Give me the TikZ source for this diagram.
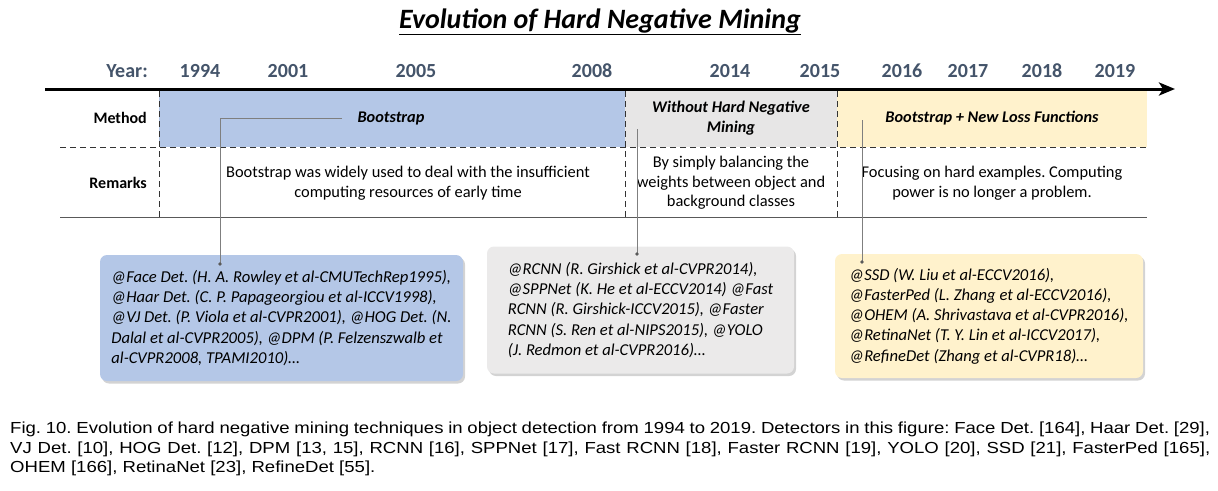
\documentclass[tikz,border=0pt]{standalone}
\usepackage{fontspec}
\setmainfont{Carlito}[Numbers=Lining]
\newfontfamily\capfont{Liberation Sans}[FakeStretch=1.16]
\usetikzlibrary{arrows.meta,positioning,shadows}
\definecolor{hnblue}{HTML}{B4C7E7}
\definecolor{hngray}{HTML}{E7E6E6}
\definecolor{hnyellow}{HTML}{FFF2CC}
\definecolor{hnyear}{HTML}{44546A}
\definecolor{hnlink}{HTML}{7F7F7F}
\frenchspacing

\begin{document}
\begin{tikzpicture}[x=1pt,y=-1pt,>=Stealth,every node/.style={align=center,inner sep=0pt},
    year/.style={font=\fontsize{20}{22}\selectfont\bfseries,text=hnyear},
    rowlabel/.style={font=\fontsize{16}{18}\selectfont\bfseries,anchor=east},
    method/.style={font=\fontsize{16.3}{20}\selectfont\bfseries\itshape},
    remark/.style={font=\fontsize{16.4}{19.5}\selectfont},
    refbox/.style={rounded corners=7pt,align=left,font=\fontsize{16.6}{20.2}\selectfont\itshape,
      drop shadow={opacity=0.35,shadow xshift=2pt,shadow yshift=-2.5pt}},
    dashrule/.style={line width=1pt,dash pattern=on 6pt off 4pt,draw=black!80},
    link/.style={draw=hnlink,line width=0.6pt}]
    \useasboundingbox (0,0) rectangle (1218,490);
    % title and years
    \node[font=\fontsize{28}{32}\selectfont\bfseries\itshape] (title) at (600,22) {\underline{Evolution of Hard Negative Mining}};
    \node[year,anchor=east] (yr) at (148,71) {Year:};
    \node[year] (y94) at (200,71) {1994};
    \node[year] (y01) at (288,71) {2001};
    \node[year] (y05) at (416,71) {2005};
    \node[year] (y08) at (592,71) {2008};
    \node[year] (y14) at (730,71) {2014};
    \node[year] (y15) at (820,71) {2015};
    \node[year] (y16) at (902,71) {2016};
    \node[year] (y17) at (968,71) {2017};
    \node[year] (y18) at (1042,71) {2018};
    \node[year] (y19) at (1115,71) {2019};
    % periods
    \fill[hnblue] (159,90) rectangle (625,147);
    \fill[hngray] (625,90) rectangle (837,147);
    \fill[hnyellow] (837,90) rectangle (1147,147);
    \coordinate (axs) at (45,89);
    \coordinate (axe) at (1175,89);
    \draw[line width=3pt,-{Stealth[length=16pt,width=13pt,inset=4pt]}] (axs) -- (axe);
    \draw[dashrule] (60,147) -- (1147,147);
    \draw[line width=1pt,draw=black!65] (60,217) -- (1147,217);
    \foreach \x in {159,625,837}
      \draw[dashrule] (\x,91) -- (\x,217);
    \node[rowlabel] (method) at (147,118) {Method};
    \node[rowlabel] (remarks) at (147,183) {Remarks};
    \node[method] (boot) at (391,118) {Bootstrap};
    \node[method] (without) at (731,118) {Without Hard Negative\\Mining};
    \node[method] (newloss) at (992,118) {Bootstrap + New Loss Functions};
    \node[remark] (rmboot) at (408,183) {Bootstrap was widely used to deal with the insufficient\\computing resources of early time};
    \node[remark] (rmwithout) at (731,183) {By simply balancing the\\weights between object and\\background classes};
    \node[remark] (rmnewloss) at (992,183) {Focusing on hard examples. Computing\\power is no longer a problem.};
    % detector lists
    \node[refbox,fill=hnblue,minimum width=363,minimum height=126] (bootbox) at (281.5,318) {@Face Det. (H. A. Rowley et al-CMUTechRep1995),\\@Haar Det. (C. P. Papageorgiou et al-ICCV1998),\\@VJ Det. (P. Viola et al-CVPR2001), @HOG Det. (N.\\Dalal et al-CVPR2005), @DPM (P. Felzenszwalb et\\al-CVPR2008, TPAMI2010)\dots};
    \node[refbox,fill=hngray!85,minimum width=307,minimum height=127] (withoutbox) at (640.5,310) {@RCNN (R. Girshick et al-CVPR2014),\\@SPPNet (K. He et al-ECCV2014) @Fast\\RCNN (R. Girshick-ICCV2015), @Faster\\RCNN (S. Ren et al-NIPS2015), @YOLO\\(J. Redmon et al-CVPR2016)\dots};
    \node[refbox,fill=hnyellow,minimum width=308,minimum height=124] (newlossbox) at (989,316) {@SSD (W. Liu et al-ECCV2016),\\@FasterPed (L. Zhang et al-ECCV2016),\\@OHEM (A. Shrivastava et al-CVPR2016),\\@RetinaNet (T. Y. Lin et al-ICCV2017),\\@RefineDet (Zhang et al-CVPR18)\dots};
    % links
    \coordinate (bootl) at (342,118);
    \coordinate (bootd) at (220,264);
    \coordinate (withoutl) at (637,129);
    \coordinate (withoutd) at (637,254);
    \coordinate (newlossl) at (862,120);
    \coordinate (newlossd) at (862,262);
    \draw[link] (bootl) -| (bootd);
    \draw[link] (withoutl) -- (withoutd);
    \draw[link] (newlossl) -- (newlossd);
    \foreach \d in {bootd,withoutd,newlossd}
      \fill[hnlink!70!black] (\d) circle (1.8pt);
    % caption
    \node[anchor=north west,text width=1200pt,align=justify,font=\capfont\fontsize{16}{19.5}\selectfont] (caption) at (10,422) {Fig. 10. Evolution of hard negative mining techniques in object detection from 1994 to 2019. Detectors in this figure: Face Det. [164], Haar Det. [29],\linebreak VJ Det. [10], HOG Det. [12], DPM [13, 15], RCNN [16], SPPNet [17], Fast RCNN [18], Faster RCNN [19], YOLO [20], SSD [21], FasterPed [165],\linebreak OHEM [166], RetinaNet [23], RefineDet [55].};
  \end{tikzpicture}
\end{document}
